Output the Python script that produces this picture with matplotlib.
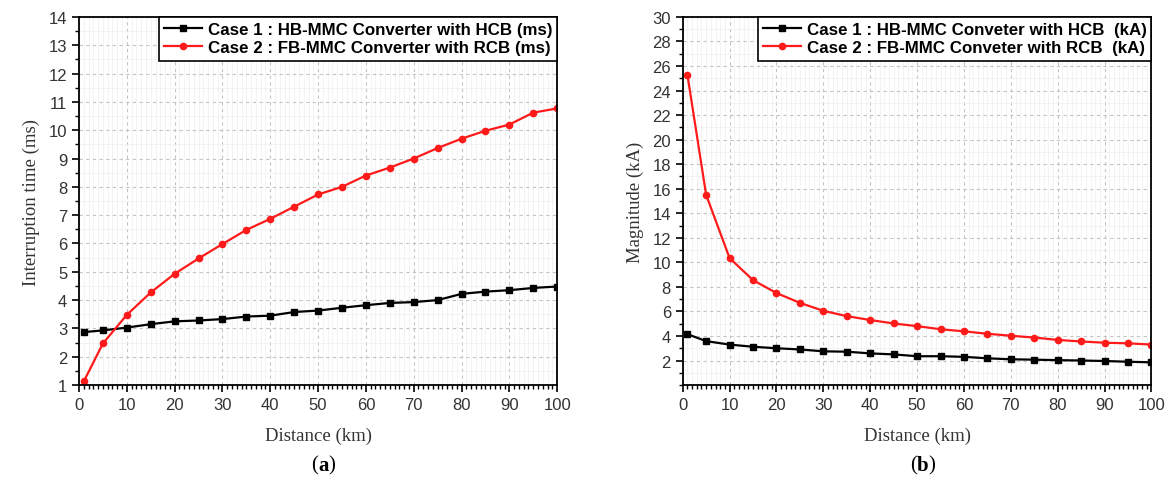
import matplotlib
matplotlib.use("Agg")
import matplotlib.pyplot as plt
from matplotlib.ticker import MultipleLocator

# distances (km)
dist = [1, 5, 10, 15, 20, 25, 30, 35, 40, 45, 50, 55, 60, 65, 70, 75, 80, 85, 90, 95, 100]

# (a) interruption time (ms)
time_hb = [2.87, 2.93, 3.03, 3.15, 3.25, 3.28, 3.33, 3.42, 3.45, 3.58, 3.63, 3.73, 3.82,
           3.90, 3.93, 4.00, 4.22, 4.30, 4.35, 4.43, 4.48]
time_fb = [1.13, 2.47, 3.48, 4.27, 4.93, 5.47, 5.98, 6.48, 6.87, 7.30, 7.73, 8.00, 8.40,
           8.68, 9.00, 9.37, 9.70, 9.98, 10.20, 10.62, 10.77]

# (b) current magnitude (kA)
mag_hb = [4.15, 3.58, 3.30, 3.12, 3.00, 2.90, 2.75, 2.72, 2.58, 2.50, 2.35, 2.35, 2.30,
          2.18, 2.10, 2.07, 2.03, 2.00, 1.96, 1.90, 1.85]
mag_fb = [25.3, 15.5, 10.35, 8.55, 7.50, 6.70, 6.05, 5.62, 5.30, 5.02, 4.80, 4.55, 4.38,
          4.18, 4.02, 3.87, 3.68, 3.55, 3.45, 3.40, 3.30]

labels_a = ["Case 1 : HB-MMC Converter with HCB (ms)", "Case 2 : FB-MMC Converter with RCB (ms)"]
labels_b = ["Case 1 : HB-MMC Conveter with HCB  (kA)", "Case 2 : FB-MMC Conveter with RCB  (kA)"]

sans = ["Liberation Sans", "DejaVu Sans"]
serif = ["Liberation Serif", "DejaVu Serif"]

fig = plt.figure(figsize=(11.69, 4.85), dpi=100)
ax1 = fig.add_axes([0.0676, 0.204, 0.409, 0.759])
ax2 = fig.add_axes([0.584, 0.204, 0.401, 0.759])


def style(ax, ylo, yhi, ymaj, ymin, ylabel):
    ax.set_xlim(0, 100)
    ax.set_ylim(ylo, yhi)
    ax.xaxis.set_major_locator(MultipleLocator(10))
    ax.xaxis.set_minor_locator(MultipleLocator(1))
    ax.yaxis.set_major_locator(MultipleLocator(ymaj))
    ax.yaxis.set_minor_locator(MultipleLocator(ymin))
    ax.grid(which="major", color="#c4c4c4", linestyle=(0, (3, 3)), linewidth=0.8)
    ax.grid(which="minor", color="#efefef", linestyle="-", linewidth=0.5)
    ax.set_axisbelow(True)
    ax.tick_params(which="major", direction="out", length=5, width=1.2,
                   top=False, right=False, labelsize=12)
    ax.tick_params(which="minor", direction="out", length=3, width=1.0,
                   top=False, right=False)
    for sp in ax.spines.values():
        sp.set_linewidth(1.3)
    ax.set_xlabel("Distance (km)", family=serif, fontsize=13.5, labelpad=11, color="#333333")
    ax.set_ylabel(ylabel, family=serif, fontsize=13.5, labelpad=6, color="#333333")


def fix_ticklabels(ax):
    for lab in ax.get_xticklabels() + ax.get_yticklabels():
        lab.set_family(sans)
        lab.set_color("#333333")


def sublabel(ax, letter):
    y = -0.218
    ax.text(0.5, y, "(", transform=ax.transAxes, ha="right", va="center", family=serif, fontsize=15)
    t = ax.text(0.5, y, letter, transform=ax.transAxes, ha="left", va="center", family=serif,
                fontsize=15, fontweight="bold")
    ax.annotate(")", xy=(1, 0.5), xycoords=t, ha="left", va="center", family=serif, fontsize=15)


# (a)
ax1.plot(dist, time_hb, color="black", marker="s", markersize=4.5, linewidth=1.6, label=labels_a[0])
ax1.plot(dist, time_fb, color="#ff1a1a", marker="o", markersize=4.5, linewidth=1.6, label=labels_a[1])
style(ax1, 1, 14, 1, 0.5, "Interruption time (ms)")
fix_ticklabels(ax1)
sublabel(ax1, "a")

# (b)
ax2.plot(dist, mag_hb, color="black", marker="s", markersize=4.5, linewidth=1.6, label=labels_b[0])
ax2.plot(dist, mag_fb, color="#ff1a1a", marker="o", markersize=4.5, linewidth=1.6, label=labels_b[1])
style(ax2, 0, 30, 2, 1, "Magnitude (kA)")
ax2.set_yticks(range(2, 31, 2))
fix_ticklabels(ax2)
sublabel(ax2, "b")

for ax in (ax1, ax2):
    leg = ax.legend(loc="upper right", borderaxespad=0, fancybox=False, framealpha=1,
                    edgecolor="black", handlelength=2.2, handletextpad=0.35,
                    borderpad=0.3, labelspacing=0.2,
                    prop={"family": sans, "weight": "bold", "size": 12.2})
    leg.get_frame().set_linewidth(1.2)

fig.savefig("out.png", dpi=100)
